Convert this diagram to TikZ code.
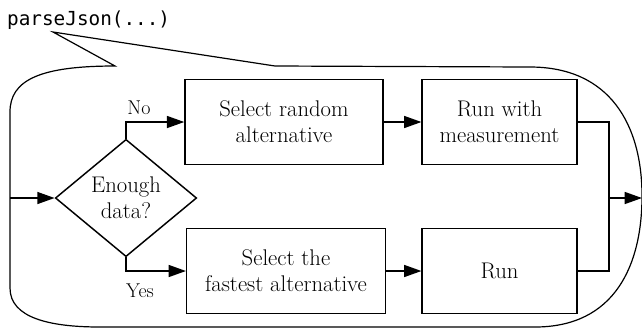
\documentclass[tikz,border=0pt]{standalone}
\usepackage{fontspec}
\setmonofont{DejaVu Sans Mono}
\usetikzlibrary{shapes.geometric,arrows.meta}

\begin{document}
\begin{tikzpicture}[x=0.75pt, y=-0.75pt, line width=1.1pt,
	mybox/.style={draw, rectangle, align=center, font=\fontsize{17}{19.5}\selectfont, minimum height=64pt},
	mydiamond/.style={draw, diamond, inner sep=0pt, align=center, font=\fontsize{17}{19.5}\selectfont, minimum width=106pt, minimum height=88pt},
	mylabel/.style={font=\fontsize{15}{17}\selectfont},
	myarrow/.style={-{Triangle[length=13pt, width=9pt]}}]
		\useasboundingbox (0, 0) rectangle (642, 330);

		% speech bubble round the flow
		\node[anchor=west, font=\ttfamily\fontsize{14.5}{17}\selectfont] at (2, 20) (call) {parseJson(...)};
		\draw[line width=0.9pt] (115, 66) .. controls (40, 66) and (10, 80) .. (10, 112) -- (10, 288)
			.. controls (10, 318) and (50, 327) .. (100, 327) -- (535, 327)
			.. controls (615, 327) and (642, 265) .. (642, 196)
			.. controls (642, 125) and (610, 67) .. (530, 67) -- (275, 66) -- (53, 32) -- cycle;

		\node[mydiamond] at (126, 198) (dec) {Enough\\data?};
		\node[mybox, minimum width=148.5pt] at (284, 122) (rand) {Select random\\alternative};
		\node[mybox, minimum width=116pt] at (499.5, 122) (meas) {Run with\\measurement};
		\node[mybox, minimum width=149pt] at (286, 271) (fast) {Select the\\fastest alternative};
		\node[mybox, minimum width=116pt] at (499.5, 271) (run) {Run};

		\coordinate (in) at (10, 198);
		\coordinate (merge) at (609, 198);
		\coordinate (out) at (642, 198);

		\node[mylabel] at (139, 108) (no) {No};
		\node[mylabel] at (140, 291) (yes) {Yes};

		\draw[myarrow] (in) -- (dec.west);
		\draw[myarrow] (dec.north) |- (rand.west);
		\draw[myarrow] (dec.south) |- (fast.west);
		\draw[myarrow] (rand) -- (meas);
		\draw[myarrow] (fast) -- (run);
		\draw (meas.east) -| (merge);
		\draw (run.east) -| (merge);
		\draw[myarrow] (merge) -- (out);
	\end{tikzpicture}
\end{document}
